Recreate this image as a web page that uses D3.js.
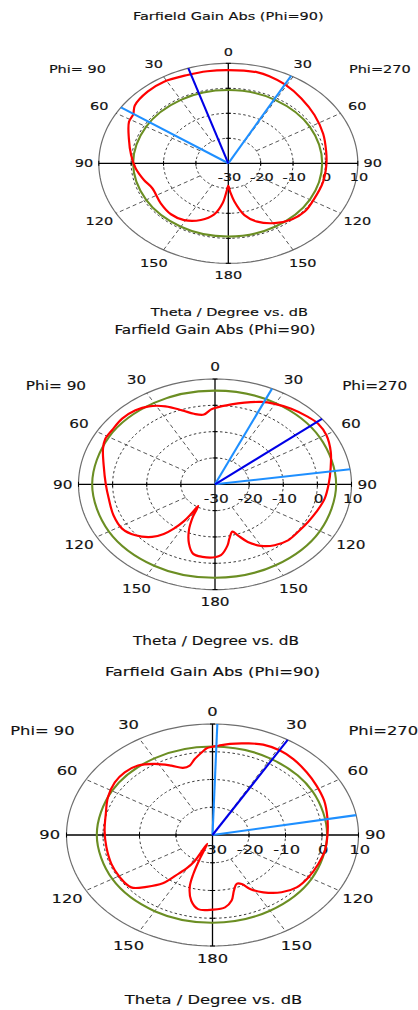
<!DOCTYPE html>
<html>
<head>
<meta charset="utf-8">
<script src="https://cdn.jsdelivr.net/npm/d3@7"></script>
<style>
  html, body { margin: 0; padding: 0; background: #fff; }
  svg { display: block; }
  text { font-family: "DejaVu Sans", Verdana, sans-serif; fill: #111; }
</style>
</head>
<body>
<svg id="chart" width="418" height="1010"></svg>
<script>
// Polar tick labels and dB rings
const thetaTicks = [0, 30, 60, 90, 120, 150, 180];
const dbTicks = [-30, -20, -10, 0, 10];
const titleText = "Farfield Gain Abs (Phi=90)";
const axisTitle = "Theta / Degree vs. dB";
const phiLeft = "Phi= 90";
const phiRight = "Phi=270";

// Gain patterns: angle clockwise from theta=0 (right half = Phi=270, left half = Phi=90), dB
const gainAngles1 = [0,14,20,29,41,54,68,81,91,104,118,129,139,149,159,166.5,173,177,180,182.5,186.3,192,200.5,211,221,232.5,247,255.6,266,276.3,288,298.5,303.7,308.7,319,328.7,340.4,350];
const gainValues1 = [7.3,7.5,7.1,6.1,4.4,2.9,1.6,0.6,0.3,0.2,0.1,0.5,-0.2,-2.1,-5.0,-8.7,-14.6,-18.5,-21,-19,-13.9,-9.1,-5.8,-3.5,-3.0,-3.7,-4.5,-3.1,-1.3,0.2,2.3,4.9,5.3,7.0,8.0,8.2,7.5,7.4];

const gainAngles2 = [0,9,15.6,23.4,29.7,37.9,46.8,52.7,60.3,70,80,90,99.6,109.5,117.7,126.7,134.9,143,150,156.3,161,164.2,168.5,171,176.3,180,187.7,193.8,198.7,203.6,207.6,210.8,211.8,213,215.6,218.5,222.7,230.3,238.3,248.4,260,270,282.4,292.4,298.4,304.2,312.5,320.3,326.8,333.9,341.1,347,353,357.5];
const gainValues2 = [-1.0,0.75,2.2,4.1,5.2,6.4,7.4,8.0,7.6,6.1,4.4,3.3,2.6,1.5,0.8,0.3,0.2,-1.0,-3.0,-6.1,-9.5,-11.3,-8.9,-6.5,-3.0,-2.3,-2.2,-2.9,-6.2,-10.9,-16,-20.4,-16.9,-13.3,-9.3,-5.9,-2.8,0.3,2.0,2.0,1.6,2.0,3.4,5.5,6.5,6.5,6.9,6.5,5.4,3.0,-0.3,-2.5,-3.3,-1.6];

const gainAngles3 = [0,2.9,8.3,15.8,23.1,31.3,39,48.8,58,68,78.6,90,100.4,109.8,120,129.3,137.5,146,152.1,155.6,159.4,163.7,167.5,172.5,180,188.4,193.8,198.3,200.5,202,204.5,207.5,210.5,213.6,218,224.1,229.7,239.1,249.4,261.3,273,284.5,295.3,305.3,313.2,320.8,328.3,335.7,341.5,346,349.9,355.1,357.1];
const gainValues3 = [1.8,2.2,3.2,4.3,5.4,5.6,5.2,4.3,3.6,3.0,2.1,1.5,1.3,0.8,0.4,-0.2,-2.0,-5.1,-8.0,-10.6,-11.2,-9.1,-5.8,-3.7,-3.1,-3.0,-5.6,-10.1,-15,-20.5,-26.5,-19.2,-16,-13.4,-7.9,-4.0,-0.8,-0.4,-0.4,-0.6,-0.4,0.2,1.7,2.8,3.0,2.3,0.1,-2.6,-4.5,-4.2,-2.2,0.3,1.3];

// Reference level traces (green)
const refAngles = [0,30,60,90,120,150,180,210,240,270,300,330];
const refLevels1 = [-0.7,-0.8,-0.9,-1.0,-0.9,-0.8,-0.7,-0.7,-0.7,-0.6,-0.7,-0.7];
const refLevels2 = [5.6,5.6,5.5,5.5,5.5,5.5,5.5,5.7,5.9,6.0,5.9,5.7];
const refLevels3 = [1.9,1.8,1.6,1.4,1.4,1.5,1.6,1.7,1.7,1.7,1.8,1.9];

// Main lobe direction and 3 dB beamwidth edges (clockwise angle, degrees)
const mainLobeDir = [342, 51.6, 31];
const beamEdges = [[304, 29], [24.7, 81.8], [1.9, 79.7]];

const panels = [
  { cx: 228.3, cy: 163.3, rx: 129.5, ry: 100,   angles: gainAngles1, values: gainValues1, ref: refLevels1 },
  { cx: 215,   cy: 484.3, rx: 136.5, ry: 105.3, angles: gainAngles2, values: gainValues2, ref: refLevels2 },
  { cx: 212.5, cy: 835,   rx: 146,   ry: 111,   angles: gainAngles3, values: gainValues3, ref: refLevels3 }
];

const svg = d3.select("#chart");
svg.append("rect").attr("width", 418).attr("height", 1010).attr("fill", "#fff");

const rScale = d3.scaleLinear().domain([-30, 10]).range([0, 1]).clamp(true);
const rad = d => d * Math.PI / 180;

panels.forEach((p, i) => {
  const xs = d3.scaleLinear().domain([-1, 1]).range([p.cx - p.rx, p.cx + p.rx]);
  const ys = d3.scaleLinear().domain([-1, 1]).range([p.cy + p.ry, p.cy - p.ry]);
  const pt = (a, r) => [xs(r * Math.sin(rad(a))), ys(r * Math.cos(rad(a)))];
  const k = p.rx / p.ry;
  const fs = 0.112 * p.ry;
  const g = svg.append("g");

  const label = (x, y, txt) => {
    g.append("g").attr("transform", `translate(${x},${y}) scale(${k},1)`)
      .append("text")
      .attr("text-anchor", "middle")
      .attr("dominant-baseline", "central")
      .attr("font-size", fs)
      .attr("stroke", "#111").attr("stroke-width", 0.15)
      .text(txt);
  };

  const ring = d3.line().curve(d3.curveLinearClosed);
  const circ = r => ring(d3.range(0, 360, 2).map(a => pt(a, r)));

  // outer ring
  g.append("path").attr("d", circ(1)).attr("fill", "none")
    .attr("stroke", "#6e6e6e").attr("stroke-width", 1.2);

  // dashed dB rings
  dbTicks.slice(1, -1).forEach(v => {
    g.append("path").attr("d", circ(rScale(v))).attr("fill", "none")
      .attr("stroke", "#222").attr("stroke-width", 0.9).attr("stroke-dasharray", "2.5,2.5");
  });

  // dashed theta spokes
  d3.range(30, 360, 30).filter(a => a % 90 !== 0).forEach(a => {
    const [x1, y1] = pt(a, rScale(-20));
    const [x2, y2] = pt(a, 1);
    g.append("line").attr("x1", x1).attr("y1", y1).attr("x2", x2).attr("y2", y2)
      .attr("stroke", "#444").attr("stroke-width", 0.9).attr("stroke-dasharray", "4,3");
  });

  // main axes
  g.append("line").attr("x1", xs(-1)).attr("x2", xs(1)).attr("y1", p.cy).attr("y2", p.cy)
    .attr("stroke", "#000").attr("stroke-width", 1.3);
  g.append("line").attr("x1", p.cx).attr("x2", p.cx).attr("y1", ys(1)).attr("y2", ys(-1))
    .attr("stroke", "#000").attr("stroke-width", 1.3);

  // ticks on the axes at ring radii
  dbTicks.slice(1).forEach(v => {
    const r = rScale(v);
    [-1, 1].forEach(s => {
      g.append("line").attr("x1", xs(s * r)).attr("x2", xs(s * r))
        .attr("y1", p.cy - 2.5).attr("y2", p.cy + 2.5).attr("stroke", "#000").attr("stroke-width", 1);
      g.append("line").attr("x1", p.cx - 2.5).attr("x2", p.cx + 2.5)
        .attr("y1", ys(s * r)).attr("y2", ys(s * r)).attr("stroke", "#000").attr("stroke-width", 1);
    });
  });

  // dB labels along the right horizontal axis
  dbTicks.forEach(v => label(xs(rScale(v)) + 1.2, p.cy + 0.134 * p.ry, String(v)));

  // theta labels on both halves
  thetaTicks.forEach(t => {
    const R = (t % 90 === 0) ? 1.115 : 1.15;
    const sides = (t === 0 || t === 180) ? [t] : [t, 360 - t];
    sides.forEach(a => {
      const [x, y] = pt(a, R);
      label(x, y, String(t));
    });
  });

  label(xs(-1.165), ys(0.94), phiLeft);
  label(xs(1.17), ys(0.94), phiRight);
  label(p.cx, p.cy - 1.467 * p.ry, titleText);
  label(p.cx + 1, p.cy + 1.486 * p.ry, axisTitle);

  const closed = d3.line().curve(d3.curveCatmullRomClosed.alpha(0.5));

  // reference trace
  g.append("path")
    .attr("d", closed(refAngles.map((a, j) => pt(a, rScale(p.ref[j])))))
    .attr("fill", "none").attr("stroke", "#6b8e23").attr("stroke-width", 2.1);

  // gain pattern
  g.append("path")
    .attr("d", closed(p.angles.map((a, j) => pt(a, rScale(p.values[j])))))
    .attr("fill", "none").attr("stroke", "#ff0000").attr("stroke-width", 2.2)
    .attr("stroke-linejoin", "round");

  // beamwidth edges and main lobe direction
  beamEdges[i].forEach(a => {
    const [x, y] = pt(a, 1);
    g.append("line").attr("x1", p.cx).attr("y1", p.cy).attr("x2", x).attr("y2", y)
      .attr("stroke", "#1e8fff").attr("stroke-width", 2.1);
  });
  const [mx, my] = pt(mainLobeDir[i], 1);
  g.append("line").attr("x1", p.cx).attr("y1", p.cy).attr("x2", mx).attr("y2", my)
    .attr("stroke", "#0000e6").attr("stroke-width", 2.1);
});
</script>
</body>
</html>
